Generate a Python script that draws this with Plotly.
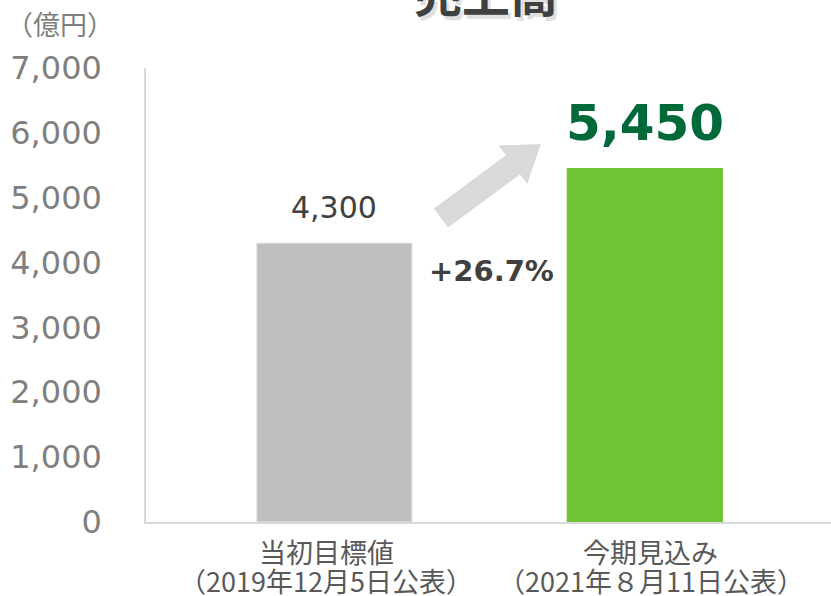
import plotly.graph_objects as go

cat_line1 = ["当初目標値", "今期見込み"]
cat_line2 = ["（2019年12月5日公表）", "（2021年８月11日公表）"]
values = [4300, 5450]
value_labels = ["4,300", "5,450"]
growth_label = "+26.7%"
title_text = "売上高"
unit_text = "（億円）"
tick_vals = [0, 1000, 2000, 3000, 4000, 5000, 6000, 7000]
tick_text = ["0", "1,000", "2,000", "3,000", "4,000", "5,000", "6,000", "7,000"]

W, H = 831, 596
L, R, T, B = 146, 0, 68, 74
PW, PH = W - L - R, H - T - B

def px2paper(px, py):
    return (px - L) / PW, (H - B - py) / PH

fig = go.Figure()
fig.add_trace(go.Bar(
    x=[0, 1], y=values, width=0.5,
    marker=dict(color=["#BFBFBF", "#70C237"],
                line=dict(color=["#E2E9DC", "#70C237"], width=1)),
    hoverinfo="skip",
))

# decorative arrow (pixel outline converted to paper coords)
arrow_px = [(433.9, 208.4), (505.8, 155.2), (498.6, 145.5), (541, 144),
            (527.2, 184.1), (520.0, 174.4), (448.1, 227.6)]
pts = [px2paper(x, y) for x, y in arrow_px]
path = "M " + " L ".join(f"{x:.4f},{y:.4f}" for x, y in pts) + " Z"
fig.add_shape(type="path", path=path, xref="paper", yref="paper",
              fillcolor="#D9D9D9", line=dict(width=0), layer="above")

ann = []
# title with light shadow
tx, ty = px2paper(486, -9)
sx, sy = px2paper(489, -5)
ann.append(dict(text=title_text, x=sx, y=sy, xref="paper", yref="paper",
                showarrow=False, xanchor="center", yanchor="middle",
                font=dict(family="Noto Sans CJK JP", size=48, color="#E0E0E0", weight="bold")))
ann.append(dict(text=title_text, x=tx, y=ty, xref="paper", yref="paper",
                showarrow=False, xanchor="center", yanchor="middle",
                font=dict(family="Noto Sans CJK JP", size=48, color="#404040", weight="bold")))
ux, uy = px2paper(60, 24)
ann.append(dict(text=unit_text, x=ux, y=uy, xref="paper", yref="paper",
                showarrow=False, xanchor="center", yanchor="middle",
                font=dict(family="Noto Sans CJK JP", size=27, color="#7F7F7F")))
ann.append(dict(text=value_labels[0], x=0, y=values[0], xref="x", yref="y",
                showarrow=False, yanchor="middle", yshift=36,
                font=dict(family="DejaVu Sans", size=30, color="#404040")))
ann.append(dict(text=value_labels[1], x=1, y=values[1], xref="x", yref="y",
                showarrow=False, yanchor="middle", yshift=46,
                font=dict(family="DejaVu Sans", size=50, color="#00693A", weight="bold")))
ann.append(dict(text=growth_label, x=0.5, y=3870, xref="x", yref="y",
                showarrow=False, yanchor="middle", xshift=2,
                font=dict(family="DejaVu Sans", size=29, color="#404040", weight="bold")))

# category labels (two lines each)
_, y1 = px2paper(0, 551)
_, y2 = px2paper(0, 580)
label_shift = [-8, 6]
for i in range(len(cat_line1)):
    ann.append(dict(text=cat_line1[i], x=i, y=y1, xref="x", yref="paper",
                    showarrow=False, xanchor="center", yanchor="middle",
                    xshift=label_shift[i],
                    font=dict(family="Noto Sans CJK JP", size=27, color="#595959")))
    ann.append(dict(text=cat_line2[i], x=i, y=y2, xref="x", yref="paper",
                    showarrow=False, xanchor="center", yanchor="middle",
                    xshift=label_shift[i],
                    font=dict(family="Noto Sans CJK JP", size=27, color="#595959")))

fig.update_layout(
    width=W, height=H,
    margin=dict(l=L, r=R, t=T, b=B, pad=0),
    paper_bgcolor="white", plot_bgcolor="white",
    showlegend=False,
    annotations=ann,
    xaxis=dict(
        tickvals=[0, 1], showticklabels=False, automargin=False,
        range=[-0.607, 1.6], showgrid=False, zeroline=False,
        showline=True, linecolor="#D9D9D9", linewidth=2, ticks="",
    ),
    yaxis=dict(
        range=[0, 7000], tickvals=tick_vals, ticktext=tick_text,
        showgrid=False, zeroline=False, showline=True, automargin=False,
        linecolor="#D9D9D9", linewidth=1.5, ticks="",
        ticklabelstandoff=36,
        tickfont=dict(family="DejaVu Sans", size=32, color="#7F7F7F"),
    ),
)

fig.write_html("out.html", config={"displayModeBar": False})

# remove default page margin so the figure sits at the window's top-left corner
with open("out.html", "r", encoding="utf-8") as f:
    html = f.read()
html = html.replace("<head>", "<head><style>html,body{margin:0;padding:0;overflow:hidden;}</style>", 1)
with open("out.html", "w", encoding="utf-8") as f:
    f.write(html)
